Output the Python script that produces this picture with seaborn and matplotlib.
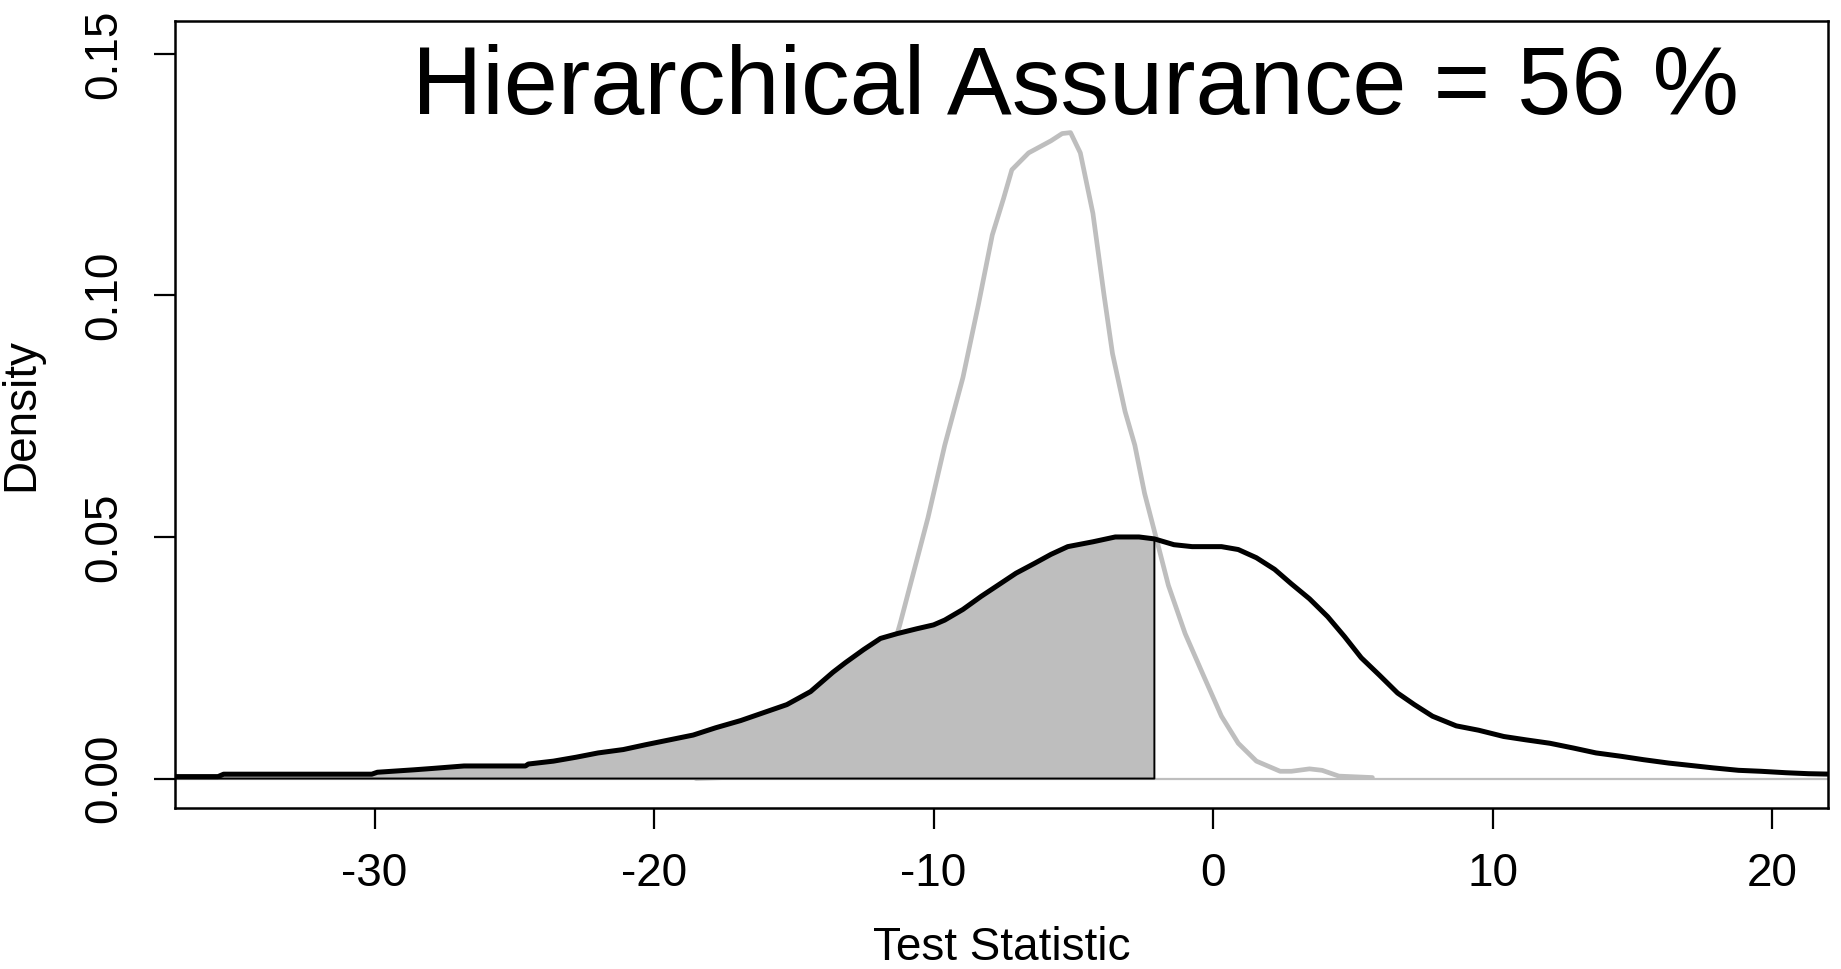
import numpy as np
import pandas as pd
import matplotlib
matplotlib.use("Agg")
import matplotlib.pyplot as plt
import seaborn as sns

# ---- data ----
hier_x = [-38.0, -35.6, -35.4, -30.1, -29.9, -28.6, -27.9, -26.8, -24.6, -24.5, -23.6,
          -22.8, -22.0, -21.1, -20.3, -19.45, -18.6, -17.8, -16.9, -16.1, -15.25,
          -14.4, -14.0, -13.6, -13.15, -12.5, -11.9, -11.3, -10.6, -10.0, -9.6,
          -8.95, -8.3, -7.7, -7.05, -6.4, -5.8, -5.2, -4.3, -3.5, -2.65, -2.1,
          -1.4, -0.75, 0.3, 0.9, 1.55, 2.2, 2.8, 3.45, 4.1, 4.7, 5.3, 5.95, 6.6,
          7.2, 7.85, 8.7, 9.5, 10.4, 11.2, 12.05, 12.9, 13.7, 14.6, 15.4, 16.3,
          17.1, 17.9, 18.8, 19.6, 20.5, 21.3, 23.0]
hier_y = [0.0004, 0.0004, 0.0009, 0.0009, 0.0013, 0.0018, 0.0021, 0.0026, 0.0026, 0.003, 0.0036,
          0.0044, 0.0053, 0.006, 0.007, 0.008, 0.009, 0.0105, 0.012, 0.0136, 0.0153,
          0.018, 0.020, 0.022, 0.024, 0.0267, 0.029, 0.030, 0.031, 0.0318, 0.0328,
          0.035, 0.0377, 0.040, 0.0425, 0.0445, 0.0464, 0.048, 0.049, 0.050, 0.050, 0.0496,
          0.0484, 0.048, 0.048, 0.0474, 0.0457, 0.0433, 0.0403, 0.0372, 0.0335, 0.0294, 0.025, 0.0214, 0.0177,
          0.0153, 0.0129, 0.0109, 0.010, 0.0087, 0.008, 0.0073, 0.0063, 0.0053, 0.0046, 0.0039, 0.0032,
          0.0027, 0.0022, 0.0017, 0.0015, 0.0012, 0.0010, 0.0008]

cond_x = [-18.5, -16.0, -14.0, -13.0, -12.0, -11.5, -11.2, -10.2, -9.6, -8.95, -8.4, -7.9,
          -7.5, -7.2, -6.6, -5.8, -5.4, -5.1, -4.75, -4.3, -3.9, -3.6, -3.15, -2.8,
          -2.45, -2.0, -1.6, -1.0, -0.35, 0.3, 0.9, 1.55, 2.4, 2.8, 3.45, 3.9, 4.5, 5.7]
cond_y = [0.0, 0.0005, 0.003, 0.008, 0.018, 0.026, 0.032, 0.054, 0.069, 0.083, 0.098, 0.1125,
          0.120, 0.126, 0.1295, 0.132, 0.1335, 0.1337, 0.1295, 0.117, 0.100, 0.088, 0.076, 0.069,
          0.059, 0.049, 0.040, 0.030, 0.0214, 0.0129, 0.0073, 0.0036, 0.0015, 0.0015, 0.002, 0.0017, 0.0005, 0.0002]

cutoff = -2.1
x_ticks = [-30, -20, -10, 0, 10, 20]
y_ticks = [0.00, 0.05, 0.10, 0.15]
title_text = "Hierarchical Assurance = 56 %"

# ---- plotting ----
sns.set_style("ticks")
plt.rcParams['font.family'] = ['Liberation Sans', 'DejaVu Sans']

fig = plt.figure(figsize=(18.41, 9.69), dpi=100)
ax = fig.add_axes([175/1841, 1 - 808/969, (1828 - 175)/1841, (808 - 21)/969])

hier = pd.DataFrame({"x": hier_x, "y": hier_y})
cond = pd.DataFrame({"x": cond_x, "y": cond_y})

sns.lineplot(data=cond, x="x", y="y", color="#BEBEBE", linewidth=3.4, ax=ax, sort=False)

# shaded area under hierarchical curve up to cutoff
hx = np.array(hier_x); hy = np.array(hier_y)
mask = hx <= cutoff
fx = np.concatenate([hx[mask], [cutoff]])
fy = np.concatenate([hy[mask], [np.interp(cutoff, hx, hy)]])
ax.axhline(0, color="#BEBEBE", linewidth=1.6, zorder=1)
ax.fill_between(fx, 0, fy, color="#BEBEBE", zorder=3, linewidth=0)
poly_x = np.concatenate([[fx[0]], fx, [cutoff, fx[0]]])
poly_y = np.concatenate([[0], fy, [0, 0]])
ax.plot(poly_x, poly_y, color="black", linewidth=1.4, zorder=4)

sns.lineplot(data=hier, x="x", y="y", color="black", linewidth=3.6, ax=ax, sort=False, zorder=5)

ax.set_xlim(-37.14, 22.0)
ax.set_ylim(-0.0061, 0.1568)
ax.set_xticks(x_ticks)
ax.set_xticklabels([f"{t:d}" for t in x_ticks])
ax.set_yticks(y_ticks)
ax.set_yticklabels([f"{t:.2f}" for t in y_ticks], rotation=90, va="center")

ax.tick_params(axis="both", length=15, width=1.6, labelsize=33, color="black", labelcolor="black")
ax.tick_params(axis="x", pad=17)
ax.tick_params(axis="y", pad=20)
for s in ax.spines.values():
    s.set_linewidth(1.8)
    s.set_color("black")

ax.set_xlabel("Test Statistic", fontsize=33, labelpad=21, color="black")
ax.set_ylabel("Density", fontsize=33, labelpad=28, color="black")

ax.text(-4.93, 0.1376, title_text, fontsize=70, ha="center", va="baseline", color="black")

fig.savefig("out.png", dpi=100, facecolor="white")
